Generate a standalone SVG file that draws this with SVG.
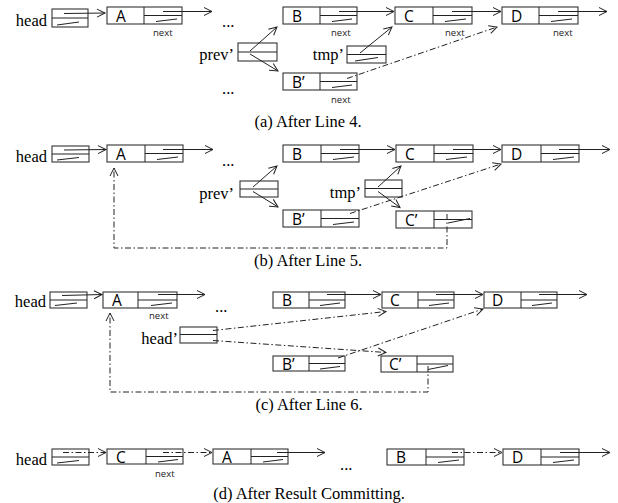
<svg xmlns="http://www.w3.org/2000/svg" width="618" height="503" viewBox="0 0 618 503">
  <style>
    .bx{fill:none;stroke:#333;stroke-width:1.1}
    .ln{fill:none;stroke:#222;stroke-width:1}
    .dd{stroke-dasharray:6 2.5 1.5 2.5}
    .lb{font-family:"Open Sans","DejaVu Sans",sans-serif;font-size:15.5px;fill:#000}
    .nx{font-family:"Open Sans","DejaVu Sans",sans-serif;font-size:9.5px;fill:#222}
    .sf{font-family:"Liberation Serif","Times New Roman",serif;font-size:16.5px;fill:#000}
    .cap{font-family:"Liberation Serif","Times New Roman",serif;font-size:16.5px;fill:#000;text-anchor:middle}
  </style>
  <defs>
    <marker id="ah" markerUnits="userSpaceOnUse" markerWidth="10" markerHeight="10" refX="8" refY="4" orient="auto" overflow="visible">
      <path d="M0,0 L8,4 L0,8" fill="none" stroke="#222" stroke-width="1" stroke-dasharray="none"/>
    </marker>
  </defs>

  <!-- ===== (a) ===== -->
  <g id="a-head">
    <text class="sf" x="47" y="26" text-anchor="end">head</text>
    <rect class="bx" x="52" y="9" width="36" height="18"/>
    <line class="ln" x1="52" y1="18" x2="88" y2="18"/>
    <line class="ln" x1="57" y1="25" x2="79" y2="22"/>
  </g>
  <g id="a-A">
    <rect class="bx" x="107" y="7" width="75" height="17"/>
    <line class="ln" x1="144" y1="7" x2="144" y2="24"/>
    <line class="ln" x1="144" y1="15.5" x2="182" y2="15.5"/>
    <line class="ln" x1="156" y1="21.5" x2="177" y2="19"/>
    <text class="lb" x="116" y="21.5">A</text>
    <text class="nx" x="153" y="36">next</text>
  </g>
  <g id="a-B">
    <rect class="bx" x="283" y="7" width="74" height="17"/>
    <line class="ln" x1="320" y1="7" x2="320" y2="24"/>
    <line class="ln" x1="320" y1="15.5" x2="357" y2="15.5"/>
    <line class="ln" x1="332" y1="21.5" x2="352" y2="19"/>
    <text class="lb" x="292" y="21.5">B</text>
    <text class="nx" x="331" y="36">next</text>
  </g>
  <g id="a-C">
    <rect class="bx" x="395" y="7" width="77" height="17"/>
    <line class="ln" x1="433" y1="7" x2="433" y2="24"/>
    <line class="ln" x1="433" y1="15.5" x2="472" y2="15.5"/>
    <line class="ln" x1="445" y1="21.5" x2="466" y2="19"/>
    <text class="lb" x="404" y="21.5">C</text>
    <text class="nx" x="445" y="36">next</text>
  </g>
  <g id="a-D">
    <rect class="bx" x="502" y="7" width="76" height="17"/>
    <line class="ln" x1="539" y1="7" x2="539" y2="24"/>
    <line class="ln" x1="539" y1="15.5" x2="578" y2="15.5"/>
    <line class="ln" x1="551" y1="21.5" x2="572" y2="19"/>
    <text class="lb" x="511" y="21.5">D</text>
    <text class="nx" x="553" y="36">next</text>
  </g>
  <g id="a-prev">
    <text class="sf" x="234" y="60" text-anchor="end">prev’</text>
    <rect class="bx" x="238" y="43" width="39" height="18"/>
    <line class="ln" x1="238" y1="52" x2="277" y2="52"/>
  </g>
  <g id="a-tmp">
    <text class="sf" x="344" y="60" text-anchor="end">tmp’</text>
    <rect class="bx" x="347" y="46" width="39" height="17"/>
    <line class="ln" x1="347" y1="54.5" x2="386" y2="54.5"/>
    <line class="ln" x1="355" y1="61" x2="378" y2="57.5"/>
  </g>
  <g id="a-B2">
    <rect class="bx" x="283" y="73" width="74" height="17"/>
    <line class="ln" x1="320" y1="73" x2="320" y2="90"/>
    <line class="ln" x1="320" y1="81.5" x2="357" y2="81.5"/>
    <line class="ln" x1="332" y1="87.5" x2="352" y2="85"/>
    <text class="lb" x="292" y="87.5">B’</text>
    <text class="nx" x="331" y="103">next</text>
  </g>
  <g id="a-text">
    <text class="sf" x="222" y="27">...</text>
    <text class="sf" x="222" y="94">...</text>
    <text class="cap" x="308" y="127">(a) After Line 4.</text>
  </g>
  <g id="a-connectors">
    <line class="ln" x1="64" y1="13.5" x2="105" y2="13" marker-end="url(#ah)"/>
    <line class="ln" x1="163" y1="11.5" x2="212" y2="11.5" marker-end="url(#ah)"/>
    <line class="ln" x1="339" y1="11.5" x2="394" y2="11.5" marker-end="url(#ah)"/>
    <line class="ln" x1="452" y1="11.5" x2="501" y2="11.5" marker-end="url(#ah)"/>
    <line class="ln" x1="558" y1="11.5" x2="607" y2="11.5" marker-end="url(#ah)"/>
    <line class="ln" x1="250" y1="51" x2="277" y2="27" marker-end="url(#ah)"/>
    <line class="ln" x1="250" y1="54" x2="278" y2="71" marker-end="url(#ah)"/>
    <line class="ln" x1="360" y1="53" x2="392" y2="27" marker-end="url(#ah)"/>
    <line class="ln dd" x1="347" y1="78.5" x2="497" y2="27" marker-end="url(#ah)"/>
  </g>

  <!-- ===== (b) ===== -->
  <g id="b-head">
    <text class="sf" x="47" y="162" text-anchor="end">head</text>
    <rect class="bx" x="52" y="146" width="37" height="16"/>
    <line class="ln" x1="52" y1="154" x2="89" y2="154"/>
    <line class="ln" x1="57" y1="160" x2="79" y2="157.5"/>
  </g>
  <g id="b-A">
    <rect class="bx" x="107" y="145" width="76" height="17"/>
    <line class="ln" x1="145" y1="145" x2="145" y2="162"/>
    <line class="ln" x1="145" y1="153.5" x2="183" y2="153.5"/>
    <line class="ln" x1="157" y1="159.5" x2="178" y2="157"/>
    <text class="lb" x="116" y="159.5">A</text>
  </g>
  <g id="b-B">
    <rect class="bx" x="283" y="145" width="76" height="17"/>
    <line class="ln" x1="321" y1="145" x2="321" y2="162"/>
    <line class="ln" x1="321" y1="153.5" x2="359" y2="153.5"/>
    <line class="ln" x1="333" y1="159.5" x2="354" y2="157"/>
    <text class="lb" x="292" y="159.5">B</text>
  </g>
  <g id="b-C">
    <rect class="bx" x="396" y="145" width="77" height="17"/>
    <line class="ln" x1="434" y1="145" x2="434" y2="162"/>
    <line class="ln" x1="434" y1="153.5" x2="473" y2="153.5"/>
    <line class="ln" x1="446" y1="159.5" x2="467" y2="157"/>
    <text class="lb" x="405" y="159.5">C</text>
  </g>
  <g id="b-D">
    <rect class="bx" x="502" y="145" width="77" height="17"/>
    <line class="ln" x1="541" y1="145" x2="541" y2="162"/>
    <line class="ln" x1="541" y1="153.5" x2="579" y2="153.5"/>
    <line class="ln" x1="553" y1="159.5" x2="574" y2="157"/>
    <text class="lb" x="511" y="159.5">D</text>
  </g>
  <g id="b-prev">
    <text class="sf" x="234" y="199" text-anchor="end">prev’</text>
    <rect class="bx" x="240" y="181" width="38" height="16"/>
    <line class="ln" x1="240" y1="189" x2="278" y2="189"/>
  </g>
  <g id="b-tmp">
    <text class="sf" x="361" y="198" text-anchor="end">tmp’</text>
    <rect class="bx" x="365" y="180" width="37" height="17"/>
    <line class="ln" x1="365" y1="188.5" x2="402" y2="188.5"/>
  </g>
  <g id="b-B2">
    <rect class="bx" x="283" y="210" width="76" height="17"/>
    <line class="ln" x1="321" y1="210" x2="321" y2="227"/>
    <line class="ln" x1="321" y1="218.5" x2="359" y2="218.5"/>
    <line class="ln" x1="333" y1="224.5" x2="354" y2="222"/>
    <text class="lb" x="292" y="224.5">B’</text>
  </g>
  <g id="b-C2">
    <rect class="bx" x="396" y="211" width="76" height="17"/>
    <line class="ln" x1="434" y1="211" x2="434" y2="228"/>
    <line class="ln" x1="434" y1="219.5" x2="472" y2="219.5"/>
    <line class="ln" x1="448" y1="223" x2="470" y2="218.5"/>
    <text class="lb" x="405" y="225.5">C’</text>
  </g>
  <g id="b-text">
    <text class="sf" x="222" y="166">...</text>
    <text class="cap" x="308" y="266">(b) After Line 5.</text>
  </g>
  <g id="b-connectors">
    <line class="ln" x1="64" y1="150" x2="106" y2="149.5" marker-end="url(#ah)"/>
    <line class="ln" x1="163" y1="149.5" x2="213" y2="149.5" marker-end="url(#ah)"/>
    <line class="ln" x1="340" y1="149.5" x2="395" y2="149.5" marker-end="url(#ah)"/>
    <line class="ln" x1="453" y1="149.5" x2="501" y2="149.5" marker-end="url(#ah)"/>
    <line class="ln" x1="559" y1="149.5" x2="610" y2="149.5" marker-end="url(#ah)"/>
    <line class="ln" x1="253" y1="187" x2="277" y2="166" marker-end="url(#ah)"/>
    <line class="ln" x1="253" y1="191.5" x2="278" y2="207" marker-end="url(#ah)"/>
    <line class="ln" x1="378" y1="187" x2="401" y2="166" marker-end="url(#ah)"/>
    <line class="ln" x1="378" y1="191.5" x2="400" y2="207.5" marker-end="url(#ah)"/>
    <line class="ln dd" x1="350" y1="213.5" x2="501" y2="164" marker-end="url(#ah)"/>
    <path class="ln dd" d="M447,214 V248 H114 V168" marker-end="url(#ah)"/>
  </g>

  <!-- ===== (c) ===== -->
  <g id="c-head">
    <text class="sf" x="46" y="307" text-anchor="end">head</text>
    <rect class="bx" x="50" y="292" width="37" height="16"/>
    <line class="ln" x1="50" y1="300" x2="87" y2="300"/>
    <line class="ln" x1="55" y1="305.5" x2="77" y2="303"/>
  </g>
  <g id="c-A">
    <rect class="bx" x="103" y="292" width="74" height="16"/>
    <line class="ln" x1="138" y1="292" x2="138" y2="308"/>
    <line class="ln" x1="138" y1="300" x2="177" y2="300"/>
    <line class="ln" x1="151" y1="305.5" x2="172" y2="303"/>
    <text class="lb" x="112" y="306">A</text>
    <text class="nx" x="149" y="319">next</text>
  </g>
  <g id="c-B">
    <rect class="bx" x="273" y="292" width="72" height="16"/>
    <line class="ln" x1="309" y1="292" x2="309" y2="308"/>
    <line class="ln" x1="309" y1="300" x2="345" y2="300"/>
    <line class="ln" x1="320" y1="305.5" x2="340" y2="303"/>
    <text class="lb" x="282" y="306">B</text>
  </g>
  <g id="c-C">
    <rect class="bx" x="382" y="292" width="72" height="16"/>
    <line class="ln" x1="418" y1="292" x2="418" y2="308"/>
    <line class="ln" x1="418" y1="300" x2="454" y2="300"/>
    <line class="ln" x1="429" y1="305.5" x2="449" y2="303"/>
    <text class="lb" x="390" y="306">C</text>
  </g>
  <g id="c-D">
    <rect class="bx" x="484" y="292" width="73" height="16"/>
    <line class="ln" x1="521" y1="292" x2="521" y2="308"/>
    <line class="ln" x1="521" y1="300" x2="557" y2="300"/>
    <line class="ln" x1="532" y1="305.5" x2="552" y2="303"/>
    <text class="lb" x="492" y="306">D</text>
  </g>
  <g id="c-headp">
    <text class="sf" x="178" y="344" text-anchor="end">head’</text>
    <rect class="bx" x="180" y="327" width="37" height="16"/>
    <line class="ln" x1="180" y1="334.5" x2="217" y2="334.5"/>
  </g>
  <g id="c-B2">
    <rect class="bx" x="273" y="356" width="72" height="15"/>
    <line class="ln" x1="309" y1="356" x2="309" y2="371"/>
    <line class="ln" x1="309" y1="363.5" x2="345" y2="363.5"/>
    <line class="ln" x1="320" y1="369" x2="340" y2="366.5"/>
    <text class="lb" x="282" y="369.5">B’</text>
  </g>
  <g id="c-C2">
    <rect class="bx" x="381" y="356" width="72" height="16"/>
    <line class="ln" x1="417" y1="356" x2="417" y2="372"/>
    <line class="ln" x1="417" y1="364" x2="453" y2="364"/>
    <line class="ln" x1="428" y1="369.5" x2="448" y2="365.5"/>
    <text class="lb" x="389" y="370">C’</text>
  </g>
  <g id="c-text">
    <text class="sf" x="215" y="312">...</text>
    <text class="cap" x="309" y="410">(c) After Line 6.</text>
  </g>
  <g id="c-connectors">
    <line class="ln" x1="62" y1="295.5" x2="102" y2="294.5" marker-end="url(#ah)"/>
    <line class="ln" x1="158" y1="294.5" x2="205" y2="294.5" marker-end="url(#ah)"/>
    <line class="ln" x1="327" y1="294.5" x2="381" y2="294.5" marker-end="url(#ah)"/>
    <line class="ln" x1="436" y1="294.5" x2="483" y2="294.5" marker-end="url(#ah)"/>
    <line class="ln" x1="539" y1="294.5" x2="587" y2="294.5" marker-end="url(#ah)"/>
    <line class="ln dd" x1="213" y1="330.5" x2="386" y2="311.5" marker-end="url(#ah)"/>
    <line class="ln dd" x1="213" y1="340.5" x2="386" y2="352.5" marker-end="url(#ah)"/>
    <line class="ln dd" x1="338" y1="358" x2="483" y2="309" marker-end="url(#ah)"/>
    <path class="ln dd" d="M428,366 V392 H110 V313" marker-end="url(#ah)"/>
  </g>

  <!-- ===== (d) ===== -->
  <g id="d-head">
    <text class="sf" x="47" y="465" text-anchor="end">head</text>
    <rect class="bx" x="52" y="449" width="37" height="16"/>
    <line class="ln" x1="52" y1="457" x2="89" y2="457"/>
    <line class="ln" x1="57" y1="463" x2="79" y2="460.5"/>
  </g>
  <g id="d-C">
    <rect class="bx" x="107" y="449" width="76" height="15"/>
    <line class="ln" x1="146" y1="449" x2="146" y2="464"/>
    <line class="ln" x1="146" y1="456.5" x2="183" y2="456.5"/>
    <line class="ln" x1="158" y1="462" x2="178" y2="459.5"/>
    <text class="lb" x="116" y="462.5">C</text>
    <text class="nx" x="155" y="477">next</text>
  </g>
  <g id="d-A">
    <rect class="bx" x="213" y="449" width="75" height="15"/>
    <line class="ln" x1="251" y1="449" x2="251" y2="464"/>
    <line class="ln" x1="251" y1="456.5" x2="288" y2="456.5"/>
    <line class="ln" x1="263" y1="462" x2="283" y2="459.5"/>
    <text class="lb" x="222" y="462.5">A</text>
  </g>
  <g id="d-B">
    <rect class="bx" x="387" y="449" width="77" height="16"/>
    <line class="ln" x1="426" y1="449" x2="426" y2="465"/>
    <line class="ln" x1="426" y1="457" x2="464" y2="457"/>
    <line class="ln" x1="438" y1="462.5" x2="459" y2="460"/>
    <text class="lb" x="396" y="463">B</text>
  </g>
  <g id="d-D">
    <rect class="bx" x="503" y="449" width="76" height="16"/>
    <line class="ln" x1="541" y1="449" x2="541" y2="465"/>
    <line class="ln" x1="541" y1="457" x2="579" y2="457"/>
    <line class="ln" x1="553" y1="462.5" x2="574" y2="460"/>
    <text class="lb" x="512" y="463">D</text>
  </g>
  <g id="d-text">
    <text class="sf" x="340" y="470">...</text>
    <text class="cap" x="309" y="499">(d) After Result Committing.</text>
  </g>
  <g id="d-connectors">
    <line class="ln dd" x1="63" y1="452.5" x2="106" y2="452.5" marker-end="url(#ah)"/>
    <line class="ln dd" x1="163" y1="452.5" x2="212" y2="452.5" marker-end="url(#ah)"/>
    <line class="ln" x1="277" y1="452.5" x2="325" y2="452.5" marker-end="url(#ah)"/>
    <line class="ln dd" x1="452" y1="452.5" x2="502" y2="452.5" marker-end="url(#ah)"/>
    <line class="ln" x1="560" y1="452.5" x2="610" y2="452.5" marker-end="url(#ah)"/>
  </g>
</svg>
